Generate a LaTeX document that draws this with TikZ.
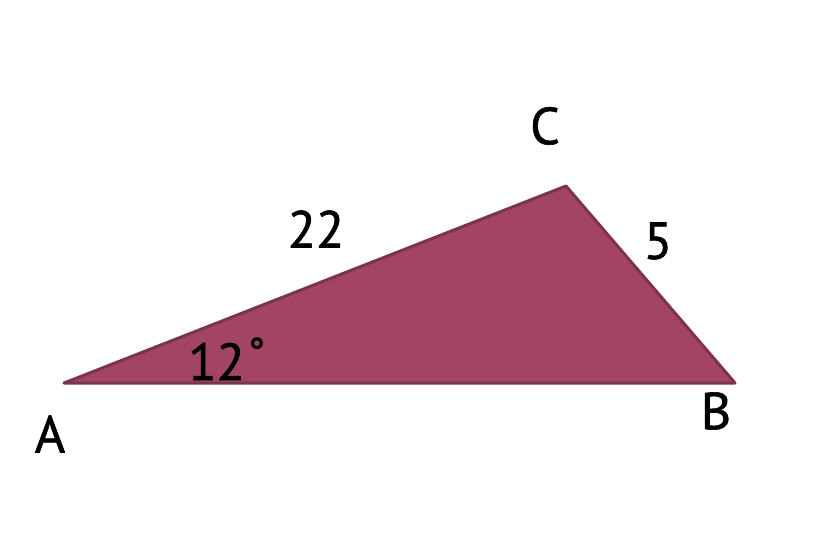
\documentclass[tikz,border=0pt]{standalone}
\usepackage{fontspec}
\setmainfont[FakeBold=1.2]{PT Sans}
\definecolor{tri}{HTML}{A34463}
\definecolor{triedge}{HTML}{7A3350}
\begin{document}
\begin{tikzpicture}[x=1pt,y=-1pt,
  lbl/.style={font=\fontsize{52}{52}\selectfont, text=black, inner sep=0pt}]
\useasboundingbox (0,0) rectangle (830,536);
\coordinate (A) at (64,383);
\coordinate (B) at (735,383);
\coordinate (C) at (566,186);
\filldraw[fill=tri, draw=triedge, line width=3pt, line join=round] (A) -- (B) -- (C) -- cycle;
\node[lbl] (la) at (50,434) {A};
\node[lbl] (lb) at (716,411) {B};
\node[lbl] (lc) at (545,126) {C};
\node[lbl] (l22) at (316,229) {22};
\node[lbl] (l5) at (658,241) {5};
\node[lbl, anchor=base west] (l12) at (188,380) {12\hspace{3pt}\raisebox{14pt}{\fontsize{40}{40}\selectfont °}};
\end{tikzpicture}
\end{document}
